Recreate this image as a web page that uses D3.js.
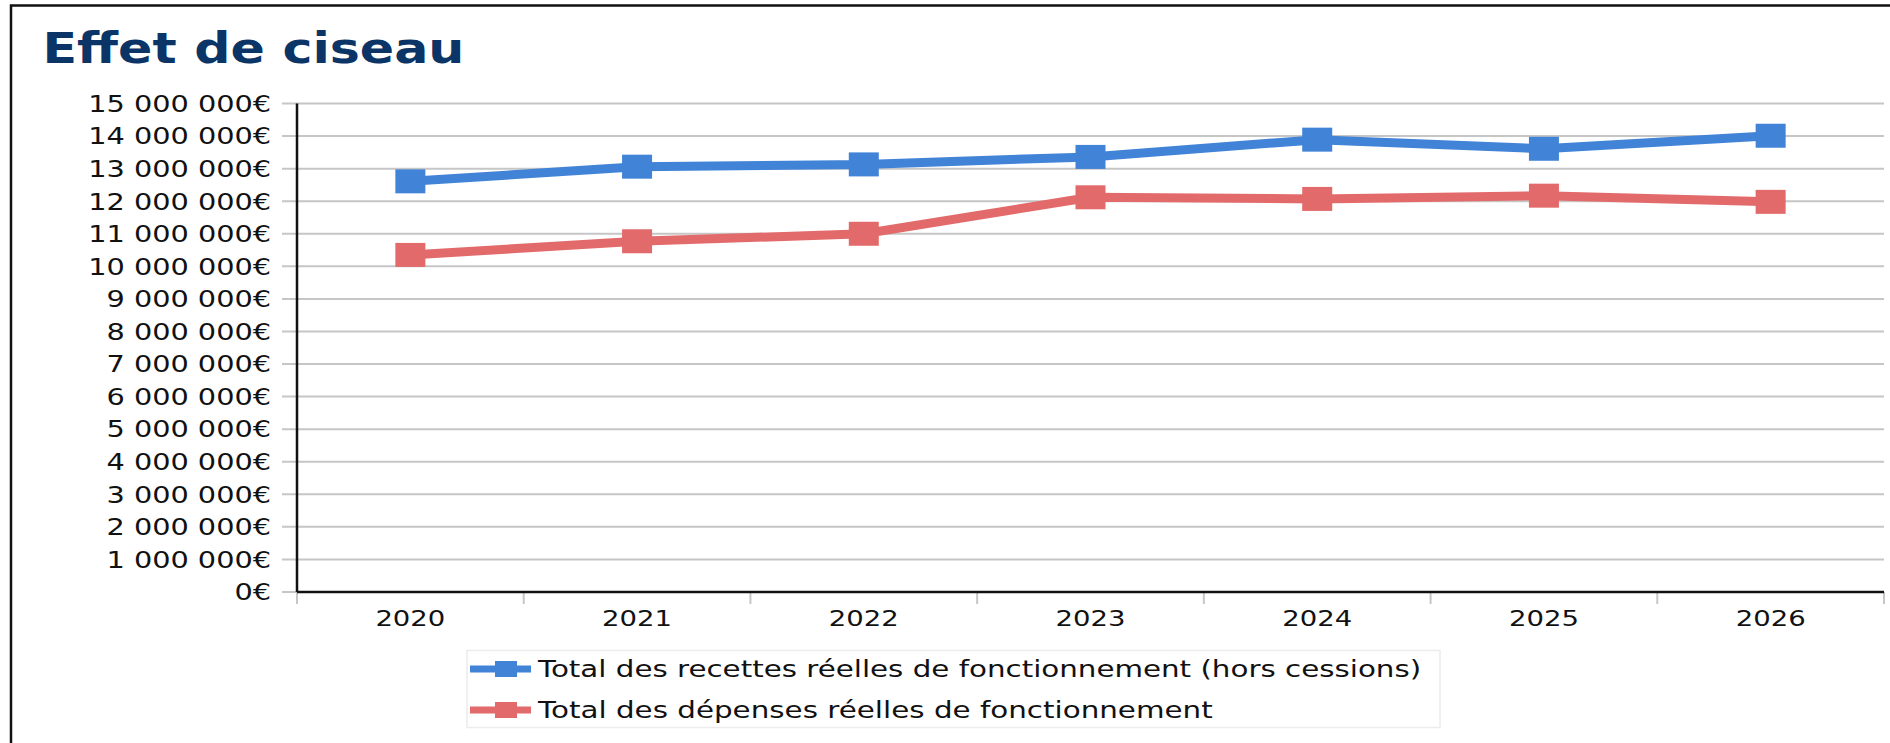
<!DOCTYPE html>
<html>
<head>
<meta charset="utf-8">
<script src="https://cdn.jsdelivr.net/npm/d3@7"></script>
<style>
  body { margin: 0; background: #fff; }
  text { font-family: "DejaVu Sans", sans-serif; }
</style>
</head>
<body>
<svg id="chart" width="1890" height="743"></svg>
<script>
// data
var years = ["2020", "2021", "2022", "2023", "2024", "2025", "2026"];
var recettes = [12610000, 13060000, 13130000, 13360000, 13890000, 13610000, 14010000];
var depenses = [10350000, 10770000, 11000000, 12120000, 12070000, 12170000, 11980000];
var seriesNames = ["Total des recettes réelles de fonctionnement (hors cessions)",
                   "Total des dépenses réelles de fonctionnement"];
var yTicks = d3.range(0, 15000001, 1000000);

var colors = ["#4183d7", "#e36a6a"];
var sx = 1.25; // the original picture is stretched horizontally

var svg = d3.select("#chart");

// outer frame
svg.append("rect")
  .attr("x", 11).attr("y", 5.5)
  .attr("width", 1900).attr("height", 760)
  .attr("fill", "none").attr("stroke", "#111").attr("stroke-width", 2.5);

// helper : draw text squeezed/stretched horizontally
function stretchText(g, x, y, str, size, anchor, scale) {
  return g.append("text")
    .attr("transform", "translate(" + x + "," + y + ") scale(" + scale + ",1)")
    .attr("text-anchor", anchor)
    .style("font-size", size + "px")
    .text(str);
}
function fitWidth(t, x, y, w) {
  var n = t.node().getComputedTextLength();
  t.attr("transform", "translate(" + x + "," + y + ") scale(" + (w / n) + ",1)");
}

// title
var title = svg.append("text")
  .style("font-size", "42px")
  .style("font-weight", "bold")
  .style("fill", "#0b3467")
  .text("Effet de ciseau");
fitWidth(title, 42.5, 63, 422);

// scales
var plotLeft = 297, plotRight = 1884, plotTop = 103.5, plotBottom = 592;
var x = d3.scaleBand().domain(years).range([plotLeft, plotRight]);
var y = d3.scaleLinear().domain([0, 15000000]).range([plotBottom, plotTop]);

var fmt = function(v) {
  return d3.format(",")(v).replace(/,/g, " ") + "€";
};

// gridlines + left ticks
svg.append("g").selectAll("line")
  .data(yTicks)
  .enter().append("line")
  .attr("x1", plotLeft - 15).attr("x2", plotRight)
  .attr("y1", function(d) { return y(d); })
  .attr("y2", function(d) { return y(d); })
  .attr("stroke", "#c6c6c6").attr("stroke-width", 2);

// y labels
var yLab = svg.append("g");
yTicks.forEach(function(d) {
  stretchText(yLab, 271, y(d) + 8.3, fmt(d), 23, "end", sx).style("fill", "#111");
});

// bottom ticks
var bounds = years.map(function(d) { return x(d); }).concat([plotRight]);
svg.append("g").selectAll("line")
  .data(bounds)
  .enter().append("line")
  .attr("x1", function(d) { return d; })
  .attr("x2", function(d) { return d; })
  .attr("y1", plotBottom).attr("y2", plotBottom + 12)
  .attr("stroke", "#c6c6c6").attr("stroke-width", 2);

// axes lines
svg.append("line")
  .attr("x1", plotLeft).attr("x2", plotLeft)
  .attr("y1", plotTop).attr("y2", plotBottom)
  .attr("stroke", "#111").attr("stroke-width", 2.5);
svg.append("line")
  .attr("x1", plotLeft).attr("x2", plotRight)
  .attr("y1", plotBottom).attr("y2", plotBottom)
  .attr("stroke", "#111").attr("stroke-width", 2.5);

// x labels
var xLab = svg.append("g");
years.forEach(function(d) {
  stretchText(xLab, x(d) + x.bandwidth() / 2, 626, d, 22, "middle", sx).style("fill", "#111");
});

// lines
var cx = function(i) { return x(years[i]) + x.bandwidth() / 2; };
var line = d3.line()
  .x(function(d, i) { return cx(i); })
  .y(function(d) { return y(d); });

[recettes, depenses].forEach(function(serie, k) {
  svg.append("path")
    .datum(serie)
    .attr("d", line)
    .attr("fill", "none")
    .attr("stroke", colors[k])
    .attr("stroke-width", 9);

  svg.append("g").selectAll("rect")
    .data(serie)
    .enter().append("rect")
    .attr("x", function(d, i) { return cx(i) - 15; })
    .attr("y", function(d) { return y(d) - 12; })
    .attr("width", 30).attr("height", 24)
    .attr("fill", colors[k]);
});

// legend
var legend = svg.append("g");
legend.append("rect")
  .attr("x", 467).attr("y", 650.5)
  .attr("width", 973).attr("height", 77)
  .attr("fill", "#fff").attr("stroke", "#ececec").attr("stroke-width", 1.5);

var legendY = [669, 710];
var legendW = [884, 675];
seriesNames.forEach(function(name, k) {
  legend.append("line")
    .attr("x1", 470).attr("x2", 531)
    .attr("y1", legendY[k]).attr("y2", legendY[k])
    .attr("stroke", colors[k]).attr("stroke-width", 7);
  legend.append("rect")
    .attr("x", 495).attr("y", legendY[k] - 8)
    .attr("width", 22).attr("height", 16)
    .attr("fill", colors[k]);
  var t = legend.append("text")
    .style("font-size", "22.5px")
    .style("fill", "#111")
    .text(name);
  fitWidth(t, 538, legendY[k] + 8.3, legendW[k]);
});
</script>
</body>
</html>
